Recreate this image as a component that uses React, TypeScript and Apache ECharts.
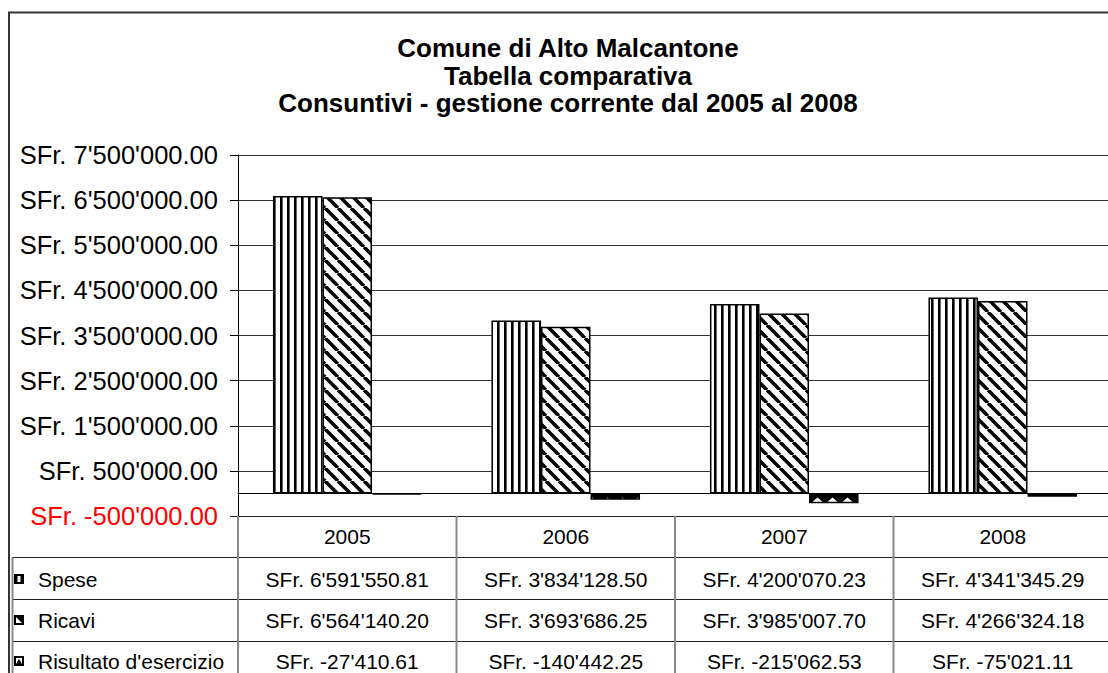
import React, { useEffect, useRef } from "react";
import * as echarts from "echarts";

const years = ["2005", "2006", "2007", "2008"];
const seriesNames = ["Spese", "Ricavi", "Risultato d'esercizio"];
const spese = [6591550.81, 3834128.5, 4200070.23, 4341345.29];
const ricavi = [6564140.2, 3693686.25, 3985007.7, 4266324.18];
const risultato = [-27410.61, -140442.25, -215062.53, -75021.11];
const titleLines = [
  "Comune di Alto Malcantone",
  "Tabella comparativa",
  "Consuntivi - gestione corrente dal 2005 al 2008",
];
const yMin = -500000;
const yMax = 7500000;
const yStep = 1000000;

function fmt(v: number): string {
  const neg = v < 0;
  const parts = Math.abs(v).toFixed(2).split(".");
  const ip = parts[0].replace(/\B(?=(\d{3})+(?!\d))/g, "'");
  return "SFr. " + (neg ? "-" : "") + ip + "." + parts[1];
}

function makePattern(w: number, h: number, draw: (ctx: CanvasRenderingContext2D) => void, x = 0, y = 0) {
  const c = document.createElement("canvas");
  c.width = w;
  c.height = h;
  const ctx = c.getContext("2d") as CanvasRenderingContext2D;
  draw(ctx);
  return { image: c.toDataURL(), repeat: "repeat", imageWidth: w, imageHeight: h, x, y };
}

const FONT = "'Liberation Sans', Arial, Helvetica, sans-serif";

export default function App() {
  const ref = useRef<HTMLDivElement>(null);
  useEffect(() => {
    if (!ref.current) return;
    const chart = echarts.init(ref.current, null, { renderer: "svg" });

    const gridLeft = 238;
    const gridTop = 155;
    const gridRight = -4;
    const gridBottom = 157;
    const plotRight = 1108 - gridRight;
    const colW = (plotRight - gridLeft) / years.length;
    const tableTop = 673 - gridBottom;
    const zeroY = gridTop + ((yMax - 0) / (yMax - yMin)) * (tableTop - gridTop);
    const rowYs = [tableTop, 557.5, 599.5, 641.5, 700];

    const vStripes = makePattern(14, 8, (ctx) => {
      ctx.fillStyle = "#fff";
      ctx.fillRect(0, 0, 14, 8);
      ctx.fillStyle = "#000";
      ctx.fillRect(0, 0, 2.6, 8);
      ctx.fillRect(7, 0, 2.6, 8);
    }, 0.7, 0);
    const dStripes = makePattern(13, 13, (ctx) => {
      ctx.fillStyle = "#fff";
      ctx.fillRect(0, 0, 13, 13);
      ctx.strokeStyle = "#000";
      ctx.lineWidth = 3.6;
      for (const k of [-13, 0, 13]) {
        ctx.beginPath();
        ctx.moveTo(k, 0);
        ctx.lineTo(k + 13, 13);
        ctx.stroke();
      }
    }, 2, 0);
    const zig = makePattern(15, 8, (ctx) => {
      ctx.fillStyle = "#000";
      ctx.fillRect(0, 0, 15, 8);
      ctx.fillStyle = "#fff";
      ctx.beginPath();
      ctx.moveTo(2, 6.2);
      ctx.lineTo(7.5, 1.6);
      ctx.lineTo(13, 6.2);
      ctx.closePath();
      ctx.fill();
    }, 5.5, zeroY);

    const graphics: any[] = [];
    graphics.push({
      type: "rect",
      shape: { x: 9, y: 12.5, width: 1200, height: 800 },
      style: { fill: "none", stroke: "#333", lineWidth: 2 },
      silent: true,
    });
    titleLines.forEach((t, i) => {
      graphics.push({
        type: "text",
        x: 568,
        y: 48 + i * 27.5,
        style: {
          text: t,
          fontSize: 26,
          fontWeight: "bold",
          fontFamily: FONT,
          fill: "#000",
          align: "center",
          verticalAlign: "middle",
        },
      });
    });
    graphics.push({
      type: "line",
      shape: { x1: 230, y1: rowYs[0] + 0.5, x2: 1110, y2: rowYs[0] + 0.5 },
      style: { stroke: "#222", lineWidth: 1 },
      z: 10,
    });
    for (let r = 1; r <= 3; r++) {
      graphics.push({
        type: "line",
        shape: { x1: 12, y1: rowYs[r], x2: 1110, y2: rowYs[r] },
        style: { stroke: "#222", lineWidth: 1 },
        z: 10,
      });
    }
    graphics.push({
      type: "line",
      shape: { x1: 12.5, y1: rowYs[1], x2: 12.5, y2: 680 },
      style: { stroke: "#888", lineWidth: 2 },
      z: 10,
    });
    for (let c = 0; c <= years.length; c++) {
      const x = gridLeft + c * colW;
      graphics.push({
        type: "line",
        shape: { x1: x, y1: tableTop, x2: x, y2: 680 },
        style: { stroke: "#888", lineWidth: 2 },
        z: 10,
      });
    }
    const tStyle = (text: string, x: number, y: number, align: string) => ({
      type: "text",
      x,
      y,
      z: 11,
      style: {
        text,
        fontSize: 21,
        fontFamily: FONT,
        fill: "#000",
        align,
        verticalAlign: "middle",
      },
    });
    years.forEach((yr, i) => {
      graphics.push(tStyle(yr, gridLeft + colW * (i + 0.5), 536, "center"));
    });
    const rows = [spese, ricavi, risultato];
    const rowCenters = [579, 620, 661];
    rows.forEach((vals, r) => {
      const cy = rowCenters[r];
      graphics.push(tStyle(seriesNames[r], 38, cy, "left"));
      vals.forEach((v, i) => {
        graphics.push(tStyle(fmt(v), gridLeft + colW * (i + 0.5), cy, "center"));
      });
      const kx = 14, ky = cy - 5;
      graphics.push({ type: "rect", z: 11, shape: { x: kx, y: ky, width: 10, height: 10 }, style: { fill: "#000" } });
      if (r === 0) {
        graphics.push({ type: "rect", z: 12, shape: { x: kx + 3.5, y: ky + 2, width: 3, height: 6 }, style: { fill: "#fff" } });
      } else if (r === 1) {
        graphics.push({ type: "polygon", z: 12, shape: { points: [[kx + 2, ky + 2], [kx + 8, ky + 8], [kx + 2, ky + 8]] }, style: { fill: "#fff" } });
      } else {
        graphics.push({ type: "rect", z: 12, shape: { x: kx + 2, y: ky + 2, width: 6, height: 6 }, style: { fill: "#fff" } });
        graphics.push({ type: "polygon", z: 13, shape: { points: [[kx + 2, ky + 8], [kx + 5, ky + 3], [kx + 8, ky + 8]] }, style: { fill: "#000" } });
      }
    });

    const barStyle = (color: any) => ({ color, borderColor: "#000", borderWidth: 1.5 });

    chart.setOption({
      animation: false,
      backgroundColor: "#fff",
      grid: {
        left: gridLeft,
        top: gridTop,
        right: gridRight,
        bottom: gridBottom,
        outerBoundsMode: "none",
        containLabel: false,
      },
      xAxis: {
        type: "category",
        data: years,
        axisLabel: { show: false },
        axisTick: { show: false },
        axisLine: { show: true, onZero: true, lineStyle: { color: "#000", width: 1 } },
        splitLine: { show: false },
      },
      yAxis: {
        type: "value",
        min: yMin,
        max: yMax,
        interval: yStep,
        axisLine: { show: true, lineStyle: { color: "#000", width: 1 } },
        axisTick: { show: true, length: 8, lineStyle: { color: "#000" } },
        splitLine: { show: true, lineStyle: { color: "#333", width: 1 } },
        axisLabel: {
          margin: 20,
          fontSize: 25.5,
          fontFamily: FONT,
          formatter: (v: number) => fmt(v),
          color: (v: any) => (Number(v) < 0 ? "#ff0000" : "#000"),
        },
      },
      series: [
        {
          name: seriesNames[0],
          type: "bar",
          data: spese,
          barGap: "0%",
          barCategoryGap: "32%",
          itemStyle: barStyle(vStripes),
        },
        {
          name: seriesNames[1],
          type: "bar",
          data: ricavi,
          barGap: "0%",
          barCategoryGap: "32%",
          itemStyle: barStyle(dStripes),
        },
        {
          name: seriesNames[2],
          type: "bar",
          data: risultato,
          barGap: "0%",
          barCategoryGap: "32%",
          itemStyle: barStyle(zig),
        },
      ],
      graphic: { elements: graphics },
    });
    return () => chart.dispose();
  }, []);
  return (
    <div
      ref={ref}
      style={{ position: "fixed", left: 0, top: 0, width: 1108, height: 673, background: "#fff" }}
    />
  );
}
